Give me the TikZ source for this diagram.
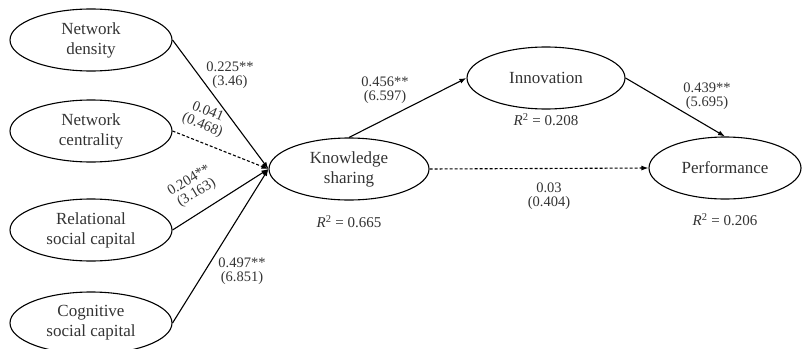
\documentclass[tikz,border=0pt]{standalone}
\usepackage{fontspec}
\setmainfont{Liberation Serif}
\usetikzlibrary{shapes.geometric,arrows.meta}
\tikzset{
  var/.style={draw, ellipse, line width=1.1pt, minimum width=162pt, minimum height=62pt, inner sep=0pt, align=center, font=\fontsize{17}{20}\selectfont, text=black!80},
  coef/.style={align=center, font=\fontsize{14.5}{14.5}\selectfont, inner sep=0pt, text=black!80},
  rsq/.style={font=\fontsize{15}{17}\selectfont, inner sep=0pt, text=black!80},
  path/.style={line width=1.1pt, -{Latex[length=7pt,width=5pt]}},
  weak/.style={path, dash pattern=on 3pt off 2pt}
}
\begin{document}
\begin{tikzpicture}[x=1pt,y=-1pt]
\useasboundingbox (0,0) rectangle (802,348);
\node[var] (nd) at (91,40) {Network\\density};
\node[var] (nc) at (91,131) {Network\\centrality};
\node[var] (rs) at (91,230) {Relational\\social capital};
\node[var] (cs) at (91,323) {Cognitive\\social capital};
\node[var, minimum width=160pt] (ks) at (349,169) {Knowledge\\sharing};
\node[var, minimum width=158pt] (in) at (546,78) {Innovation};
\node[var, minimum width=152pt] (pf) at (725,168) {Performance};

\draw[path] (nd.east) -- (ks.west);
\draw[weak] (nc.east) -- (ks.west);
\draw[path] (rs.east) -- (ks.west);
\draw[path] (cs.east) -- (ks.west);
\draw[path] (ks.north) -- (in.west);
\draw[path] (in.east) -- (pf.north);
\draw[weak] (ks.east) -- (pf.west);

\node[coef] (l1) at (230,75) {0.225**\\(3.46)};
\node[coef, rotate=-22] (l2) at (205,119) {0.041\\(0.468)};
\node[coef, rotate=31] (l3) at (193,187) {0.204**\\(3.163)};
\node[coef] (l4) at (242,271) {0.497**\\(6.851)};
\node[coef] (l5) at (385,90) {0.456**\\(6.597)};
\node[coef] (l6) at (707,96) {0.439**\\(5.695)};
\node[coef] (l7) at (549,196) {0.03\\(0.404)};

\node[rsq] (r1) at (349,222) {\textit{R}\textsuperscript{2} = 0.665};
\node[rsq] (r2) at (546,120) {\textit{R}\textsuperscript{2} = 0.208};
\node[rsq] (r3) at (725,220) {\textit{R}\textsuperscript{2} = 0.206};
\end{tikzpicture}
\end{document}
